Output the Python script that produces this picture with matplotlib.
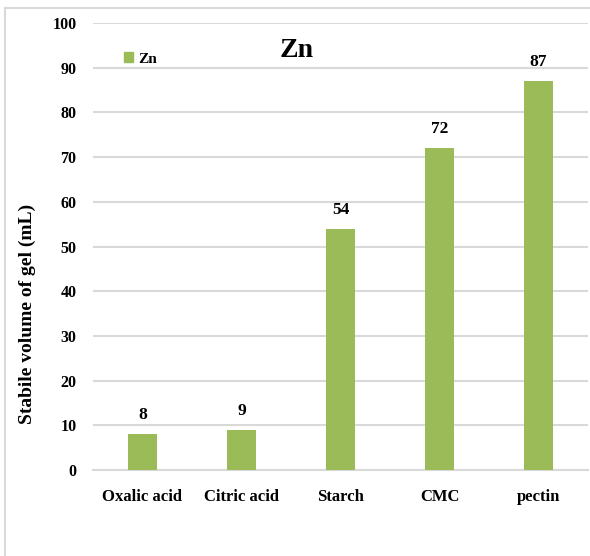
import matplotlib
matplotlib.use('agg')
import matplotlib.pyplot as plt
from matplotlib.lines import Line2D
from matplotlib.patches import Patch

plt.rcParams['font.family'] = ['Liberation Serif', 'DejaVu Serif']
plt.rcParams['font.weight'] = 'bold'

categories = ['Oxalic acid', 'Citric acid', 'Starch', 'CMC', 'pectin']
zn_volume = [8, 9, 54, 72, 87]
y_ticks = [0, 10, 20, 30, 40, 50, 60, 70, 80, 90, 100]

bar_color = '#9BBB59'
grid_color = '#D9D9D9'

fig = plt.figure(figsize=(5.9, 5.56), dpi=100)
ax = fig.add_axes([0.1576, 0.1547, 0.8390, 0.8039])

x = range(len(categories))
bars = ax.bar(x, zn_volume, width=0.3, color=bar_color, zorder=3)

for b, v in zip(bars, zn_volume):
    ax.annotate(str(v), (b.get_x() + b.get_width() / 2, v),
                xytext=(0, 8), textcoords='offset points',
                ha='center', va='bottom', fontsize=12.5, fontweight='bold')

ax.set_xlim(-0.5, len(categories) - 0.5)
ax.set_ylim(0, 100)
ax.set_yticks(y_ticks)
ax.set_xticks(list(x))
ax.tick_params(axis='both', length=0)
ax.tick_params(axis='y', pad=12, labelsize=11.5)
ax.tick_params(axis='x', pad=14, labelsize=12)
ax.set_xticklabels(categories, fontsize=12, fontweight='bold')
for lbl in ax.get_yticklabels():
    lbl.set_fontweight('bold')

ax.yaxis.grid(True, color=grid_color, linewidth=1.5, zorder=0)
for s in ['top', 'right', 'left']:
    ax.spines[s].set_visible(False)
ax.spines['bottom'].set_color(grid_color)
ax.spines['bottom'].set_linewidth(1.5)

ax.set_ylabel('Stabile volume of gel (mL)', fontsize=14, fontweight='bold')
ax.yaxis.set_label_coords(-0.116, 0.35)

fig.text(0.502, 0.909, 'Zn', ha='center', va='center', fontsize=20, fontweight='bold')

leg = ax.legend(handles=[Patch(color=bar_color, label='Zn')], loc='upper left',
                bbox_to_anchor=(0.035, 0.965), frameon=False, fontsize=11,
                handlelength=0.6, handleheight=0.6, handletextpad=0.3)

# chart frame: top and left edges only
fig.add_artist(Line2D([0.009, 1.0], [0.986, 0.986], transform=fig.transFigure,
                      color=grid_color, linewidth=1.5))
fig.add_artist(Line2D([0.009, 0.009], [0.0, 0.986], transform=fig.transFigure,
                      color=grid_color, linewidth=1.5))

fig.savefig('out.png', dpi=100)
